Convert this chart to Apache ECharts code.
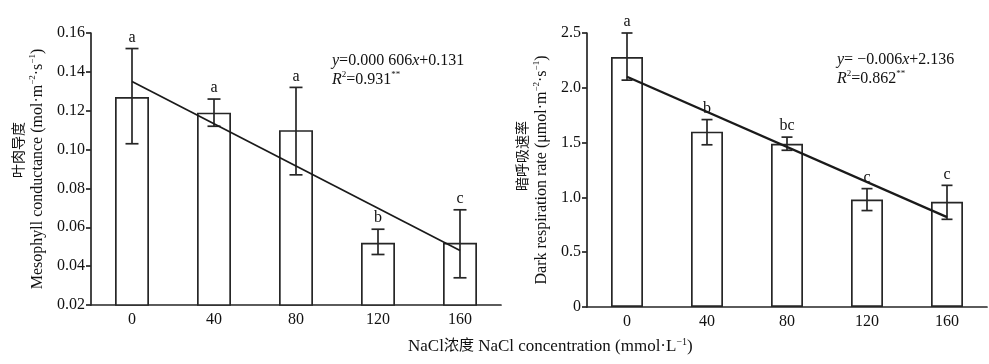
<!DOCTYPE html>
<html>
<head>
<meta charset="utf-8">
<script src="https://cdn.jsdelivr.net/npm/echarts@6/dist/echarts.min.js"></script>
<style>html,body{margin:0;padding:0;background:#fff;}#c{width:989px;height:364px;}</style>
</head>
<body>
<div id="c"></div>
<script>
// ---- data ----
const categories = ['0', '40', '80', '120', '160'];
const gmMeans = [0.127, 0.119, 0.110, 0.052, 0.052];
const gmErrLow = [0.103, 0.112, 0.087, 0.046, 0.034];
const gmErrHigh = [0.152, 0.126, 0.132, 0.059, 0.069];
const gmLetters = ['a', 'a', 'a', 'b', 'c'];
const gmTrend = [0.135, null, null, null, 0.048];
const rdMeans = [2.28, 1.60, 1.49, 0.98, 0.96];
const rdErrLow = [2.07, 1.48, 1.43, 0.88, 0.80];
const rdErrHigh = [2.50, 1.71, 1.55, 1.08, 1.11];
const rdLetters = ['a', 'b', 'bc', 'c', 'c'];
const rdTrend = [2.10, null, null, null, 0.82];

const SERIF = '"Liberation Serif", "Times New Roman", serif';
const CJK = '"Noto Sans CJK SC", sans-serif';
const INK = '#262626';

function errRender(letters, cap) {
  return function (params, api) {
    const i = api.value(0);
    const lo = api.coord([i, api.value(1)]);
    const hi = api.coord([i, api.value(2)]);
    const ls = { stroke: INK, lineWidth: 1.7 };
    return {
      type: 'group',
      children: [
        { type: 'line', shape: { x1: hi[0], y1: hi[1], x2: lo[0], y2: lo[1] }, style: ls },
        { type: 'line', shape: { x1: hi[0] - cap / 2, y1: hi[1], x2: hi[0] + cap / 2, y2: hi[1] }, style: ls },
        { type: 'line', shape: { x1: lo[0] - cap / 2, y1: lo[1], x2: lo[0] + cap / 2, y2: lo[1] }, style: ls },
        { type: 'text', x: hi[0], y: hi[1] - 11,
          style: { text: letters[params.dataIndex], fill: '#111', font: '16px ' + SERIF, align: 'center', verticalAlign: 'middle' } }
      ]
    };
  };
}

function yName(cn, enA, cnPad) {
  return {
    name: '{cn|' + cn + '}\n{en|' + enA + '}{sup|−2}{en|·s}{sup|−1}{en|)}',
    nameTextStyle: {
      rich: {
        cn: { fontFamily: CJK, fontSize: 14, color: '#111', lineHeight: 20, padding: [0, 0, 0, cnPad] },
        en: { fontFamily: SERIF, fontSize: 16, color: '#111', lineHeight: 20 },
        sup: { fontFamily: SERIF, fontSize: 9, color: '#111', lineHeight: 12, verticalAlign: 'top' }
      }
    }
  };
}

const axisLineStyle = { color: INK, width: 1.7 };
const chart = echarts.init(document.getElementById('c'));
const gmName = yName('叶肉导度', 'Mesophyll conductance (mol·m', 38);
const rdName = yName('暗呼吸速率', 'Dark respiration rate (μmol·m', 28);

chart.setOption({
  animation: false,
  backgroundColor: '#fff',
  grid: [
    { left: 91, top: 33, width: 410, height: 272 },
    { left: 587, top: 33, width: 400, height: 274 }
  ],
  xAxis: [0, 1].map(g => ({
    type: 'category', gridIndex: g, data: categories, boundaryGap: true,
    axisLine: { lineStyle: axisLineStyle },
    axisTick: { inside: true, length: 5, lineStyle: { color: INK, width: 1.4 } },
    axisLabel: { fontFamily: SERIF, fontSize: 16, color: '#111', margin: 7 },
    splitLine: { show: false }
  })),
  yAxis: [
    {
      type: 'value', gridIndex: 0, min: 0.02, max: 0.16, interval: 0.02,
      name: gmName.name, nameTextStyle: gmName.nameTextStyle,
      nameLocation: 'middle', nameRotate: 90, nameGap: 43,
      axisLine: { show: true, lineStyle: axisLineStyle },
      axisTick: { show: true, length: 5, lineStyle: { color: INK, width: 1.7 } },
      axisLabel: { fontFamily: SERIF, fontSize: 16, color: '#111', margin: 6, formatter: v => v.toFixed(2) },
      splitLine: { show: false }
    },
    {
      type: 'value', gridIndex: 1, min: 0, max: 2.5, interval: 0.5,
      name: rdName.name, nameTextStyle: rdName.nameTextStyle,
      nameLocation: 'middle', nameRotate: 90, nameGap: 35,
      axisLine: { show: true, lineStyle: axisLineStyle },
      axisTick: { show: true, length: 5, lineStyle: { color: INK, width: 1.7 } },
      axisLabel: { fontFamily: SERIF, fontSize: 16, color: '#111', margin: 6, formatter: v => v === 0 ? '0' : v.toFixed(1) },
      splitLine: { show: false }
    }
  ],
  series: [
    { type: 'bar', xAxisIndex: 0, yAxisIndex: 0, data: gmMeans, barWidth: 34,
      itemStyle: { color: '#fff', borderColor: INK, borderWidth: 1.7 }, z: 2 },
    { type: 'custom', xAxisIndex: 0, yAxisIndex: 0, renderItem: errRender(gmLetters, 13),
      data: categories.map((c, i) => [i, gmErrLow[i], gmErrHigh[i]]), z: 4 },
    { type: 'line', xAxisIndex: 0, yAxisIndex: 0, data: gmTrend, connectNulls: true, symbol: 'none',
      lineStyle: { color: '#1a1a1a', width: 1.7 }, z: 5 },
    { type: 'bar', xAxisIndex: 1, yAxisIndex: 1, data: rdMeans, barWidth: 32,
      itemStyle: { color: '#fff', borderColor: INK, borderWidth: 1.7 }, z: 2 },
    { type: 'custom', xAxisIndex: 1, yAxisIndex: 1, renderItem: errRender(rdLetters, 11),
      data: categories.map((c, i) => [i, rdErrLow[i], rdErrHigh[i]]), z: 4 },
    { type: 'line', xAxisIndex: 1, yAxisIndex: 1, data: rdTrend, connectNulls: true, symbol: 'none',
      lineStyle: { color: '#1a1a1a', width: 2.2 }, z: 5 }
  ],
  graphic: [
    { type: 'text', left: 332, top: 53,
      style: { text: '{i|y}{n|=0.000 606}{i|x}{n|+0.131}\n{i|R}{s|2}{n|=0.931}{s|**}',
        rich: {
          n: { fontFamily: SERIF, fontSize: 16, fill: '#111', lineHeight: 19 },
          i: { fontFamily: SERIF, fontSize: 16, fontStyle: 'italic', fill: '#111', lineHeight: 19 },
          s: { fontFamily: SERIF, fontSize: 9, fill: '#111', lineHeight: 12, verticalAlign: 'top' }
        } } },
    { type: 'text', left: 837, top: 52,
      style: { text: '{i|y}{n|= −0.006}{i|x}{n|+2.136}\n{i|R}{s|2}{n|=0.862}{s|**}',
        rich: {
          n: { fontFamily: SERIF, fontSize: 16, fill: '#111', lineHeight: 19 },
          i: { fontFamily: SERIF, fontSize: 16, fontStyle: 'italic', fill: '#111', lineHeight: 19 },
          s: { fontFamily: SERIF, fontSize: 9, fill: '#111', lineHeight: 12, verticalAlign: 'top' }
        } } },
    { type: 'text', left: 408, top: 337,
      style: { text: '{n|NaCl}{c|浓度}{n| NaCl concentration (mmol·L}{s|−1}{n|)}',
        rich: {
          n: { fontFamily: SERIF, fontSize: 17, fill: '#111', lineHeight: 20 },
          c: { fontFamily: CJK, fontSize: 15, fill: '#111', lineHeight: 16, verticalAlign: 'top' },
          s: { fontFamily: SERIF, fontSize: 10, fill: '#111', lineHeight: 12, verticalAlign: 'top' }
        } } }
  ]
});
</script>
</body>
</html>
